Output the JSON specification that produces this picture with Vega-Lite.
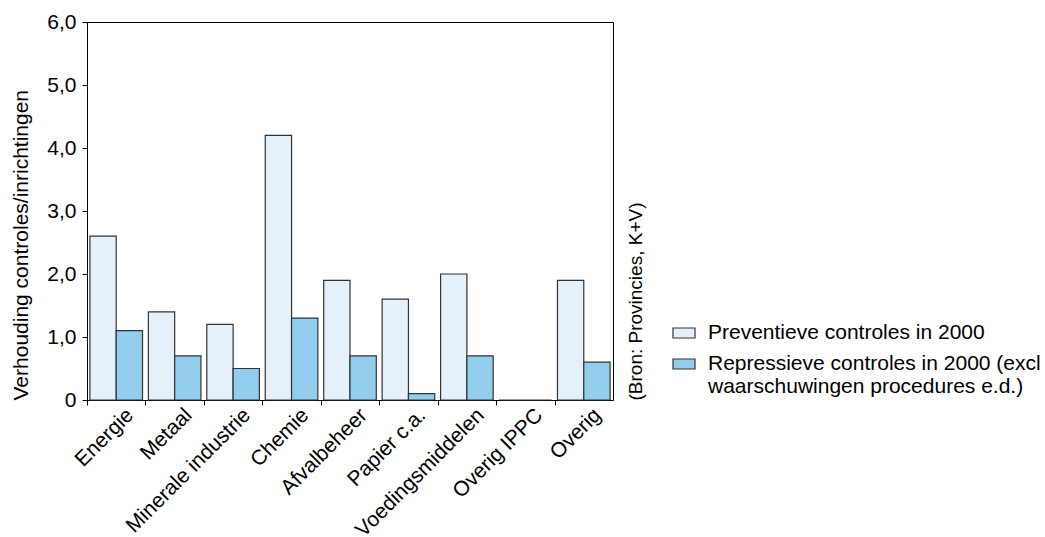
{
  "$schema": "https://vega.github.io/schema/vega-lite/v6.json",
  "autosize": {"type": "none"},
  "padding": {"left": 87, "top": 22, "right": 432, "bottom": 137},
  "width": 526,
  "height": 378,
  "background": "white",
  "data": {
    "values": [
      {"sector": "Energie", "serie": "Preventieve controles in 2000", "waarde": 2.6},
      {"sector": "Energie", "serie": "Repressieve controles in 2000 (excl waarschuwingen procedures e.d.)", "waarde": 1.1},
      {"sector": "Metaal", "serie": "Preventieve controles in 2000", "waarde": 1.4},
      {"sector": "Metaal", "serie": "Repressieve controles in 2000 (excl waarschuwingen procedures e.d.)", "waarde": 0.7},
      {"sector": "Minerale industrie", "serie": "Preventieve controles in 2000", "waarde": 1.2},
      {"sector": "Minerale industrie", "serie": "Repressieve controles in 2000 (excl waarschuwingen procedures e.d.)", "waarde": 0.5},
      {"sector": "Chemie", "serie": "Preventieve controles in 2000", "waarde": 4.2},
      {"sector": "Chemie", "serie": "Repressieve controles in 2000 (excl waarschuwingen procedures e.d.)", "waarde": 1.3},
      {"sector": "Afvalbeheer", "serie": "Preventieve controles in 2000", "waarde": 1.9},
      {"sector": "Afvalbeheer", "serie": "Repressieve controles in 2000 (excl waarschuwingen procedures e.d.)", "waarde": 0.7},
      {"sector": "Papier c.a.", "serie": "Preventieve controles in 2000", "waarde": 1.6},
      {"sector": "Papier c.a.", "serie": "Repressieve controles in 2000 (excl waarschuwingen procedures e.d.)", "waarde": 0.1},
      {"sector": "Voedingsmiddelen", "serie": "Preventieve controles in 2000", "waarde": 2.0},
      {"sector": "Voedingsmiddelen", "serie": "Repressieve controles in 2000 (excl waarschuwingen procedures e.d.)", "waarde": 0.7},
      {"sector": "Overig IPPC", "serie": "Preventieve controles in 2000", "waarde": 0},
      {"sector": "Overig IPPC", "serie": "Repressieve controles in 2000 (excl waarschuwingen procedures e.d.)", "waarde": 0},
      {"sector": "Overig", "serie": "Preventieve controles in 2000", "waarde": 1.9},
      {"sector": "Overig", "serie": "Repressieve controles in 2000 (excl waarschuwingen procedures e.d.)", "waarde": 0.6}
    ]
  },
  "encoding": {
    "x": {
      "field": "sector",
      "type": "nominal",
      "sort": null,
      "scale": {"paddingInner": 0.1, "paddingOuter": 0.05},
      "axis": {
        "title": null,
        "labelAngle": -45,
        "labelAlign": "right",
        "labelBaseline": "top",
        "tickOffset": -29.22,
        "labelOffset": 35,
        "tickSize": 5,
        "labelPadding": -1
      }
    },
    "xOffset": {"field": "serie", "type": "nominal", "sort": null, "scale": {"paddingInner": 0, "paddingOuter": 0}}
  },
  "layer": [
    {
      "mark": {"type": "bar", "stroke": "#333333", "strokeWidth": 1.2},
      "encoding": {
        "y": {
          "field": "waarde",
          "type": "quantitative",
          "scale": {"domain": [0, 6], "nice": false},
          "axis": {
            "title": "Verhouding controles/inrichtingen",
            "values": [0, 1, 2, 3, 4, 5, 6],
            "labelExpr": "datum.value == 0 ? '0' : replace(format(datum.value, '.1f'), '.', ',')",
            "grid": false,
            "tickSize": 5,
            "labelPadding": 6,
            "titlePadding": 15,
            "titleAnchor": "start",
            "titleAlign": "left"
          }
        },
        "fill": {
          "field": "serie",
          "type": "nominal",
          "sort": null,
          "scale": {"range": ["#E4F1FB", "#93CDEE"]},
          "legend": {
            "title": null,
            "orient": "none",
            "legendX": 585,
            "legendY": 299,
            "padding": 0,
            "symbolType": "M-1,-0.4545H1V0.4545H-1Z",
            "symbolSize": 484,
            "symbolStrokeColor": "#333333",
            "symbolStrokeWidth": 1.2,
            "labelLimit": 0,
            "labelOffset": 12,
            "rowPadding": 9,
            "labelExpr": "indexof(datum.label, 'Repressieve') == 0 ? ['Repressieve controles in 2000 (excl', 'waarschuwingen procedures e.d.)'] : datum.label"
          }
        }
      }
    },
    {
      "mark": {"type": "bar", "opacity": 0},
      "encoding": {
        "y": {
          "field": "waarde",
          "type": "quantitative",
          "scale": {"domain": [0, 6], "nice": false},
          "axis": {
            "orient": "right",
            "title": "(Bron: Provincies, K+V)",
            "labels": false,
            "ticks": false,
            "domain": false,
            "grid": false,
            "titleAngle": -90,
            "titleAnchor": "start",
            "titleAlign": "left",
            "titleBaseline": "top",
            "titlePadding": 13,
            "titleFontSize": 19
          }
        }
      }
    }
  ],
  "resolve": {"scale": {"y": "independent"}},
  "config": {
    "font": "Liberation Sans",
    "view": {"stroke": "black", "strokeWidth": 1},
    "axis": {
      "labelFont": "Liberation Sans",
      "labelFontSize": 21,
      "labelColor": "black",
      "titleFont": "Liberation Sans",
      "titleFontSize": 21,
      "titleFontWeight": "normal",
      "titleColor": "black",
      "domainColor": "black",
      "tickColor": "black",
      "domainWidth": 1,
      "tickWidth": 1
    },
    "legend": {
      "labelFont": "Liberation Sans",
      "labelFontSize": 21,
      "labelColor": "black"
    }
  }
}
